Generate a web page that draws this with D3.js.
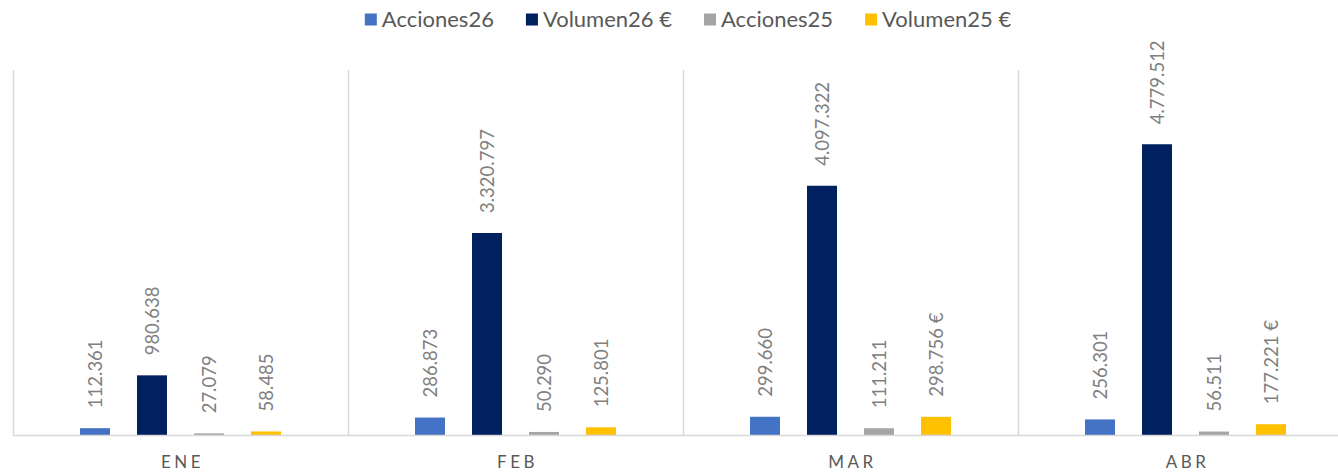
<!DOCTYPE html>
<html>
<head>
<meta charset="utf-8">
<script src="https://cdn.jsdelivr.net/npm/d3@7"></script>
<style>
  body { margin: 0; background: #fff; }
  svg { display: block; font-family: Lato, 'Open Sans', sans-serif; }
</style>
</head>
<body>
<script>
const width = 1338;
const height = 473;

// data
const months = ['ENE', 'FEB', 'MAR', 'ABR'];
const seriesNames = ['Acciones26', 'Volumen26 €', 'Acciones25', 'Volumen25 €'];
const seriesColors = ['#4472C4', '#002060', '#A5A5A5', '#FFC000'];
const acciones26 = [112361, 286873, 299660, 256301];
const volumen26 = [980638, 3320797, 4097322, 4779512];
const acciones25 = [27079, 50290, 111211, 56511];
const volumen25 = [58485, 125801, 298756, 177221];
const volumen25Suffix = ['', '', ' €', ' €'];

const seriesValues = [acciones26, volumen26, acciones25, volumen25];
const seriesSuffix = [months.map(() => ''), months.map(() => ''), months.map(() => ''), volumen25Suffix];

const es = d3.formatLocale({ decimal: ',', thousands: '.', grouping: [3], currency: ['', ' €'] });
const fmt = es.format(',d');

const plot = { left: 13, right: 1353, top: 70, bottom: 435 };

const svg = d3.select('body').append('svg')
  .attr('width', width)
  .attr('height', height);

const x0 = d3.scaleBand()
  .domain(months)
  .range([plot.left, plot.right])
  .padding(0);

const x1 = d3.scaleBand()
  .domain(d3.range(seriesNames.length))
  .range([67, x0.bandwidth() - 67])
  .paddingInner(27 / 57)
  .paddingOuter(0);

const y = d3.scaleLinear()
  .domain([0, 6000000])
  .range([plot.bottom, plot.top]);

// category separators
svg.append('g')
  .selectAll('line')
  .data(months)
  .enter().append('line')
    .attr('x1', d => x0(d) + 0.5)
    .attr('x2', d => x0(d) + 0.5)
    .attr('y1', plot.top)
    .attr('y2', plot.bottom)
    .attr('stroke', '#D9D9D9')
    .attr('stroke-width', 1.5);

// bars
const groups = svg.append('g')
  .selectAll('g')
  .data(months)
  .enter().append('g')
    .attr('transform', d => `translate(${x0(d)},0)`);

const cells = groups.selectAll('g')
  .data((m, mi) => seriesValues.map((vals, si) => ({ si, value: vals[mi], suffix: seriesSuffix[si][mi] })))
  .enter().append('g');

cells.append('rect')
  .attr('x', d => x1(d.si))
  .attr('width', x1.bandwidth())
  .attr('y', d => y(d.value))
  .attr('height', d => plot.bottom - y(d.value))
  .attr('fill', d => seriesColors[d.si]);

cells.append('text')
  .attr('transform', d => `translate(${x1(d.si) + x1.bandwidth() / 2},${y(d.value) - 20}) rotate(-90)`)
  .attr('text-anchor', 'start')
  .attr('dominant-baseline', 'central')
  .attr('font-size', 18.5)
  .attr('fill', '#808080')
  .text(d => fmt(d.value) + d.suffix);

// baseline
svg.append('line')
  .attr('x1', plot.left)
  .attr('x2', width)
  .attr('y1', plot.bottom + 0.5)
  .attr('y2', plot.bottom + 0.5)
  .attr('stroke', '#D9D9D9')
  .attr('stroke-width', 1.5);

// category labels
svg.append('g')
  .selectAll('text')
  .data(months)
  .enter().append('text')
    .attr('x', d => x0(d) + x0.bandwidth() / 2 + 2)
    .attr('y', 468)
    .attr('text-anchor', 'middle')
    .attr('font-size', 17)
    .attr('letter-spacing', '3.5px')
    .attr('fill', '#595959')
    .text(d => d);

// legend
const legend = svg.append('g');
const items = legend.selectAll('g')
  .data(seriesNames)
  .enter().append('g');

items.append('rect')
  .attr('width', 12)
  .attr('height', 12)
  .attr('y', 13.5)
  .attr('fill', (d, i) => seriesColors[i]);

items.append('text')
  .attr('x', 17)
  .attr('y', 26.5)
  .attr('font-size', 22)
  .attr('fill', '#595959')
  .text(d => d);

let offset = 0;
const widths = [];
items.each(function () {
  widths.push(17 + d3.select(this).select('text').node().getComputedTextLength());
});
const gap = 32;
const total = d3.sum(widths) + gap * (widths.length - 1);
const start = 688 - total / 2;
items.attr('transform', (d, i) => {
  const tx = start + offset;
  offset += widths[i] + gap;
  return `translate(${tx},0)`;
});
</script>
</body>
</html>
